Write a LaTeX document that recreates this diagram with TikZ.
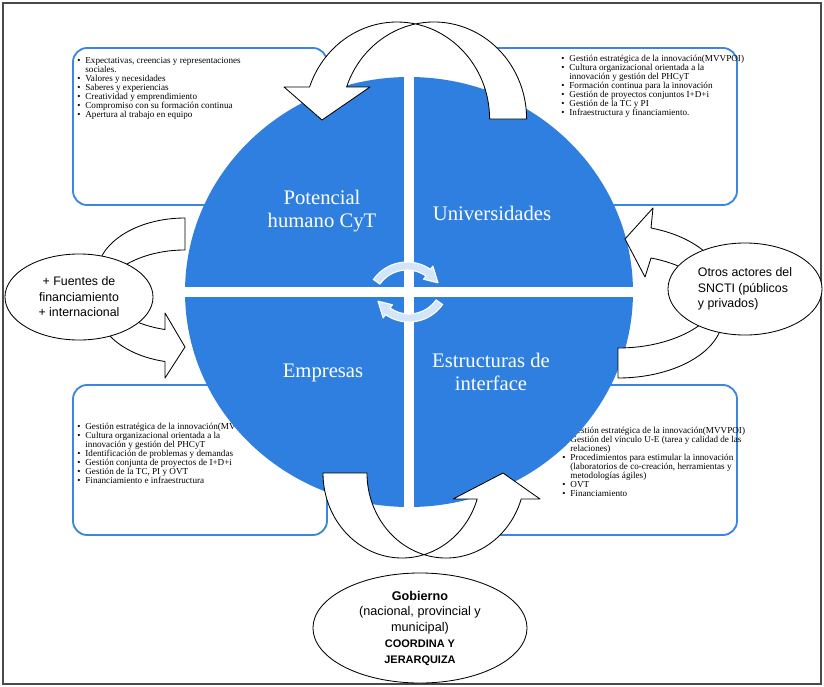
\documentclass[tikz,border=0pt]{standalone}
\usepackage{fontspec}
\setmainfont{Liberation Serif}
\newfontfamily\arialfont{Liberation Sans}
\usepackage{xcolor}
\usetikzlibrary{shapes.geometric}
\definecolor{quadblue}{HTML}{2E7FE0}
\definecolor{boxblue}{HTML}{3A86E2}
\definecolor{ringblue}{HTML}{D3E5F8}
\definecolor{framegray}{HTML}{4A4A4A}

\begin{document}
\begin{tikzpicture}[
  x=0.025cm, y=-0.025cm,
  infobox/.style={draw=boxblue, line width=1.3pt, fill=white, rounded corners=10pt},
  boxtext/.style={inner sep=0pt, anchor=north west, font=\fontsize{6.5}{6.25}\selectfont},
  quadlabel/.style={text=white, align=center, font=\fontsize{14.7}{16}\selectfont},
  blockarrow/.style={fill=white, draw=black, line width=0.6pt, line join=round},
  ringarrow/.style={fill=ringblue, draw=white, line width=0.8pt, line join=round},
  oval/.style={ellipse, draw=black, line width=0.6pt, fill=white, inner sep=0pt,
    align=center, font=\arialfont\fontsize{8.8}{11}\selectfont}
]
\useasboundingbox (0,0) rectangle (824,686);
% frame
\draw[framegray, line width=1.4pt] (3,3) rectangle (821,684);

% boxes behind the circle
\draw[infobox] (73,48) rectangle (327,205);
\draw[infobox] (485,48) rectangle (737,205);
\draw[infobox] (73,385) rectangle (327,535);
\draw[infobox] (485,385) rectangle (737,535);

\node[boxtext] (listpot) at (77,57) {\begin{tabular}{@{}l@{\hspace{3.5pt}}l@{}}
\textbullet & Expectativas, creencias y representaciones\\
 & sociales.\\
\textbullet & Valores y necesidades\\
\textbullet & Saberes y experiencias\\
\textbullet & Creatividad y emprendimiento\\
\textbullet & Compromiso con su formación continua\\
\textbullet & Apertura al trabajo en equipo
\end{tabular}};
\node[boxtext] (listuni) at (561,55) {\begin{tabular}{@{}l@{\hspace{3.5pt}}l@{}}
\textbullet & Gestión estratégica de la innovación(MVVPOI)\\
\textbullet & Cultura organizacional orientada a la\\
 & innovación y gestión del PHCyT\\
\textbullet & Formación continua para la innovación\\
\textbullet & Gestión de proyectos conjuntos I+D+i\\
\textbullet & Gestión de la TC y PI\\
\textbullet & Infraestructura y financiamiento.
\end{tabular}};
\node[boxtext] (listemp) at (77,423) {\begin{tabular}{@{}l@{\hspace{3.5pt}}l@{}}
\textbullet & Gestión estratégica de la innovación(MVVPOI)\\
\textbullet & Cultura organizacional orientada a la\\
 & innovación y gestión del PHCyT\\
\textbullet & Identificación de problemas y demandas\\
\textbullet & Gestión conjunta de proyectos de I+D+i\\
\textbullet & Gestión de la TC, PI y OVT\\
\textbullet & Financiamiento e infraestructura
\end{tabular}};
\node[boxtext] (listest) at (562,427) {\begin{tabular}{@{}l@{\hspace{3.5pt}}l@{}}
\textbullet & Gestión estratégica de la innovación(MVVPOI)\\
\textbullet & Gestión del vínculo U-E (tarea y calidad de las\\
 & relaciones)\\
\textbullet & Procedimientos para estimular la innovación\\
 & (laboratorios de co-creación, herramientas y\\
 & metodologías ágiles)\\
\textbullet & OVT\\
\textbullet & Financiamiento
\end{tabular}};

% circle split in four
\fill[quadblue] (409,292) ellipse [x radius=224, y radius=215];
\begin{scope}
  \clip (409,292) ellipse [x radius=224, y radius=215];
  \draw[white, line width=6.5pt] (409,60) -- (409,520);
  \draw[white, line width=6.5pt] (170,292) -- (650,292);
\end{scope}

\node[quadlabel] (potencial) at (322,211) {Potencial\\humano CyT};
\node[quadlabel] (universidades) at (492,213) {Universidades};
\node[quadlabel] (empresas) at (323,373) {Empresas};
\node[quadlabel] (estructuras) at (491,372) {Estructuras de\\interface};

% small cycle in the middle
\begin{scope}[shift={(407,303)}]
  \path[ringarrow] (-145:41) arc[start angle=-145, end angle=-55, radius=41]
    -- (-55:45) -- (-33:37) -- (-55:29) -- (-55:33)
    arc[start angle=-55, end angle=-145, radius=33] -- cycle;
\end{scope}
\begin{scope}[shift={(409,281)}]
  \path[ringarrow] (35:41) arc[start angle=35, end angle=125, radius=41]
    -- (125:45) -- (147:37) -- (125:29) -- (125:33)
    arc[start angle=125, end angle=35, radius=33] -- cycle;
\end{scope}

% top: curved down arrow
\draw[blockarrow] (346.6,87) arc[start angle=-160.74, end angle=0, x radius=92.6, y radius=97]
  -- (489.6,119) arc[start angle=0, end angle=-160.74, x radius=92.6, y radius=97]
  -- (284,87) -- (322,120) -- (370,87) -- cycle;
% bottom: curved up arrow
\draw[blockarrow] (323,473) arc[start angle=180, end angle=17.81, x radius=79, y radius=85]
  -- (453,499) -- (503,473) -- (540,499) -- (521.2,499)
  arc[start angle=17.81, end angle=180, x radius=79, y radius=85] -- cycle;
% left: curved right arrow
\draw[blockarrow] (185,218) arc[start angle=-90, end angle=-256.86, x radius=88, y radius=56.5]
  -- (165,313) -- (185,347) -- (165,378) -- (165,361.5)
  arc[start angle=103.14, end angle=270, x radius=88, y radius=56.5] -- cycle;
% right: curved left arrow
\draw[blockarrow] (618,348) arc[start angle=90, end angle=-71.68, x radius=105, y radius=61.56]
  -- (653,208) -- (625,239) -- (645,277) -- (651,258)
  arc[start angle=-71.68, end angle=90, x radius=105, y radius=61.56] -- cycle;

% actors around
\node[oval, minimum width=3.7cm, minimum height=2.15cm] (fuentes) at (79,297)
  {+ Fuentes de\\financiamiento\\+ internacional};
\node[oval, minimum width=3.85cm, minimum height=2.3cm, align=left] (otros) at (745,289)
  {Otros actores del\\SNCTI (públicos\\y privados)};
\node[oval, minimum width=5.35cm, minimum height=2.75cm, font=\arialfont\fontsize{9}{11.2}\selectfont] (gobierno) at (420,628)
  {\textbf{Gobierno}\\(nacional, provincial y\\municipal)\\{\fontsize{7.8}{11.2}\selectfont\bfseries COORDINA Y}\\{\fontsize{7.8}{11.2}\selectfont\bfseries JERARQUIZA}};
\end{tikzpicture}
\end{document}
